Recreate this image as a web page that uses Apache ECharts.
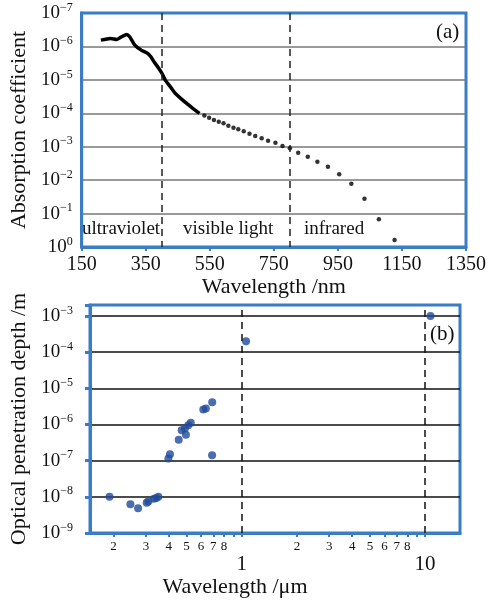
<!DOCTYPE html>
<html>
<head>
<meta charset="utf-8">
<script src="https://cdn.jsdelivr.net/npm/echarts@6/dist/echarts.min.js"></script>
<style>
   html, body { margin: 0; padding: 0; background: #fff; }
   #chart { width: 489px; height: 600px; }
</style>
</head>
<body>
<div id="chart"></div>
<script>
// (a) absorption coefficient vs wavelength (nm)
const curveNm = [210, 240, 260, 275, 290, 300, 316, 336, 356, 366, 376, 391, 401, 411, 427, 442, 472, 497, 518];
const curveAbs = [6.46e-7, 5.75e-7, 6.17e-7, 5.13e-7, 4.37e-7, 5.13e-7, 9.1e-7, 1.29e-6, 1.62e-6, 2.04e-6,
   2.88e-6, 4.57e-6, 6.46e-6, 1.02e-5, 1.62e-5, 2.51e-5, 4.57e-5, 7.08e-5, 1.0e-4];
const dotNm = [533, 548, 563, 578, 593, 608, 624, 639, 656, 674, 692, 712, 732, 755, 777, 800,
   826, 856, 886, 919, 954, 992, 1033, 1078, 1127];
const dotAbs = [1.17e-4, 1.35e-4, 1.58e-4, 1.78e-4, 2.0e-4, 2.34e-4, 2.69e-4, 3.02e-4, 3.47e-4, 4.07e-4,
   4.79e-4, 5.62e-4, 6.61e-4, 7.59e-4, 9.55e-4, 1.12e-3, 1.51e-3, 2.0e-3, 2.82e-3, 3.98e-3,
   6.61e-3, 1.29e-2, 3.63e-2, 0.148, 0.617];
const bandEdgesNm = [400, 800];
const bandNames = ['ultraviolet', 'visible light', 'infrared'];

// (b) optical penetration depth (m) vs wavelength (um)
const depthUm = [0.190, 0.247, 0.272, 0.303, 0.310, 0.332, 0.342, 0.351, 0.398, 0.406, 0.453, 0.470,
   0.490, 0.496, 0.511, 0.527, 0.617, 0.637, 0.690, 0.689, 1.055, 10.7];
const depthM = [1.0e-8, 6.2e-9, 4.8e-9, 6.9e-9, 7.6e-9, 8.9e-9, 9.3e-9, 1.0e-8, 1.15e-7, 1.5e-7, 3.8e-7, 6.9e-7,
   7.9e-7, 5.2e-7, 9.5e-7, 1.12e-6, 2.6e-6, 2.75e-6, 4.1e-6, 1.4e-7, 2.0e-4, 1.0e-3];
const edgesUm = [1, 10];
const tickUm = [0.2, 0.3, 0.4, 0.5, 0.6, 0.7, 0.8, 0.9, 1, 2, 3, 4, 5, 6, 7, 8, 9, 10];
const labelUm = [0.2, 0.3, 0.4, 0.5, 0.6, 0.7, 0.8, 1, 2, 3, 4, 5, 6, 7, 8, 10];

const FONT = 'Liberation Serif';
const BLUE = '#3a7dc5';

function powLabel(v) {
   const e = Math.log10(v);
   const r = Math.round(e);
   if (Math.abs(e - r) > 0.01) return '';
   return '10{s|' + (r < 0 ? '\u2212' + (-r) : r) + '}';
}

function umLabel(v) {
   const e = Math.log10(v);
   if (Math.abs(e - Math.round(e)) < 0.01) return '{big|' + Math.round(v) + '}';
   const lead = Math.round(v / Math.pow(10, Math.floor(e + 1e-9)));
   return '{sm|' + lead + '}';
}

const powRich = { s: { fontFamily: FONT, fontSize: 12, color: '#111', padding: [0, 0, 11, 0] } };

const chart = echarts.init(document.getElementById('chart'));
chart.setOption({
   backgroundColor: '#fff',
   animation: false,
   grid: [
      { left: 77, right: 16, top: 13, bottom: 353, show: true, borderColor: BLUE, borderWidth: 3, backgroundColor: 'transparent' },
      { left: 90, right: 29, top: 305, bottom: 67, show: true, borderColor: BLUE, borderWidth: 3, backgroundColor: 'transparent' }
   ],
   xAxis: [{
      gridIndex: 0,
      type: 'value',
      min: 150,
      max: 1350,
      interval: 200,
      name: 'Wavelength /nm',
      nameLocation: 'middle',
      nameGap: 29,
      nameTextStyle: { fontFamily: FONT, fontSize: 22, color: '#111' },
      axisLine: { show: true, lineStyle: { color: BLUE, width: 3 } },
      axisTick: { show: true, length: 4, lineStyle: { color: BLUE, width: 2 } },
      axisLabel: { fontFamily: FONT, fontSize: 20, color: '#111', margin: 8, formatter: v => String(v) },
      splitLine: { show: false }
   }, {
      gridIndex: 1,
      type: 'log',
      logBase: 10,
      min: 0.1487,
      max: 15.5,
      name: 'Wavelength /\u03bcm',
      nameLocation: 'middle',
      nameGap: 42,
      nameTextStyle: { fontFamily: FONT, fontSize: 22, color: '#111', padding: [0, 80, 0, 0] },
      axisLine: { show: true, lineStyle: { color: BLUE, width: 3 } },
      axisTick: { show: true, length: 4, customValues: tickUm, lineStyle: { color: BLUE, width: 2 } },
      axisLabel: {
         customValues: labelUm,
         margin: 7,
         formatter: umLabel,
         rich: {
            sm: { fontFamily: FONT, fontSize: 13, color: '#111' },
            big: { fontFamily: FONT, fontSize: 21, color: '#111', padding: [14, 0, 0, 0] }
         }
      },
      splitLine: { show: false }
   }],
   yAxis: [{
      gridIndex: 0,
      type: 'log',
      logBase: 10,
      min: 1e-7,
      max: 1,
      inverse: true,
      name: 'Absorption coefficient',
      nameLocation: 'middle',
      nameGap: 49,
      nameTextStyle: { fontFamily: FONT, fontSize: 22, color: '#111' },
      axisLine: { show: true, lineStyle: { color: BLUE, width: 3 } },
      axisTick: { show: false },
      axisLabel: { fontFamily: FONT, fontSize: 19, color: '#111', margin: 9, formatter: powLabel, rich: powRich },
      splitLine: { show: true, showMinLine: false, showMaxLine: false, lineStyle: { color: '#777', width: 1.5 } }
   }, {
      gridIndex: 1,
      type: 'log',
      logBase: 10,
      min: 1e-9,
      max: 0.002,
      name: 'Optical penetration depth /m',
      nameLocation: 'middle',
      nameGap: 55,
      nameTextStyle: { fontFamily: FONT, fontSize: 22, color: '#111' },
      axisLine: { show: true, lineStyle: { color: BLUE, width: 3 } },
      axisTick: { show: true, length: 5, lineStyle: { color: BLUE, width: 3 } },
      axisLabel: { fontFamily: FONT, fontSize: 19, color: '#111', margin: 17, formatter: powLabel, rich: powRich },
      splitLine: { show: true, showMinLine: false, showMaxLine: false, lineStyle: { color: '#111', width: 1.5 } }
   }],
   series: [{
      name: 'uv curve',
      type: 'line',
      xAxisIndex: 0,
      yAxisIndex: 0,
      data: curveNm.map((x, i) => [x, curveAbs[i]]),
      symbol: 'none',
      smooth: 0.2,
      lineStyle: { color: '#000', width: 3.5 },
      z: 3,
      markLine: {
         silent: true,
         symbol: 'none',
         label: { show: false },
         lineStyle: { color: '#222', type: [7, 5], width: 1.5 },
         data: bandEdgesNm.map(v => ({ xAxis: v }))
      }
   }, {
      name: 'dots',
      type: 'scatter',
      xAxisIndex: 0,
      yAxisIndex: 0,
      data: dotNm.map((x, i) => [x, dotAbs[i]]),
      symbolSize: 4.5,
      itemStyle: { color: '#000' },
      z: 3
   }, {
      name: 'depth',
      type: 'scatter',
      xAxisIndex: 1,
      yAxisIndex: 1,
      data: depthUm.map((x, i) => [x, depthM[i]]),
      symbolSize: 8,
      itemStyle: { color: '#1f4a9a' },
      z: 3,
      markLine: {
         silent: true,
         symbol: 'none',
         label: { show: false },
         lineStyle: { color: '#111', type: [7, 5], width: 1.5 },
         data: edgesUm.map(v => ({ xAxis: v }))
      }
   }],
   graphic: [
      { type: 'text', left: 82, top: 220, style: { text: bandNames[0], font: '19px "' + FONT + '"', fill: '#111' } },
      { type: 'text', left: 183, top: 220, style: { text: bandNames[1], font: '19px "' + FONT + '"', fill: '#111' } },
      { type: 'text', left: 304, top: 220, style: { text: bandNames[2], font: '19px "' + FONT + '"', fill: '#111' } },
      { type: 'text', left: 436, top: 22, style: { text: '(a)', font: '21px "' + FONT + '"', fill: '#111' } },
      { type: 'text', left: 430, top: 324, style: { text: '(b)', font: '21px "' + FONT + '"', fill: '#111' } }
   ]
});
</script>
</body>
</html>
